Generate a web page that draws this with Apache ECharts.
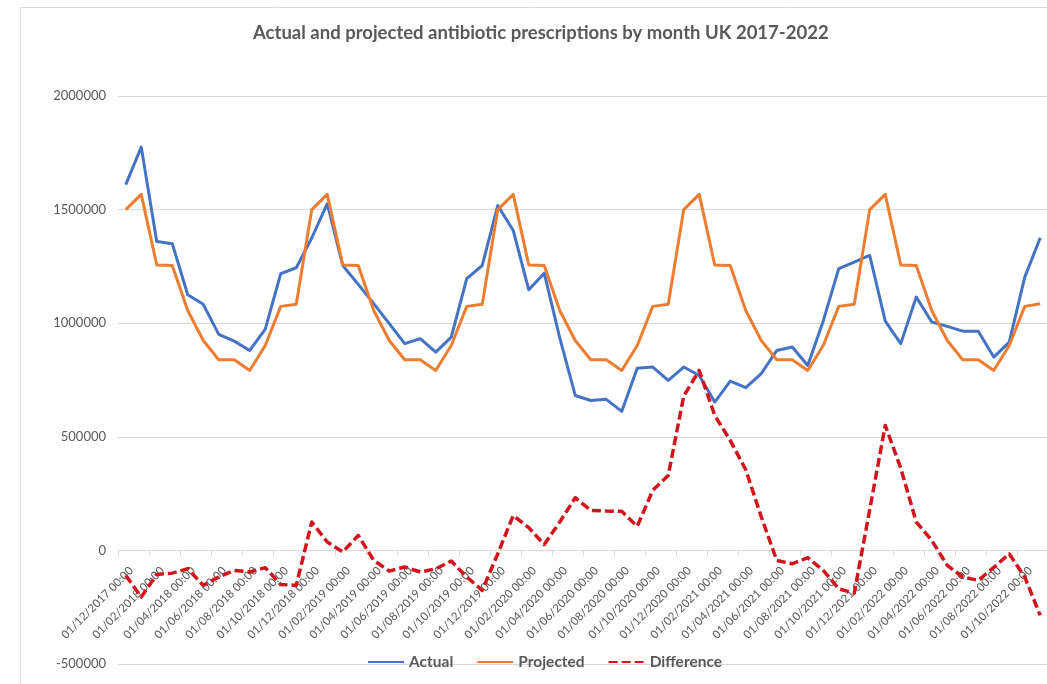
<!DOCTYPE html>
<html>
<head>
<meta charset="utf-8">
<title>Antibiotic prescriptions UK 2017-2022</title>
<script src="https://cdn.jsdelivr.net/npm/echarts@6/dist/echarts.min.js"></script>
<style>
  html, body { margin: 0; padding: 0; background: #ffffff; }
  #chart { width: 1047px; height: 684px; }
</style>
</head>
<body>
<div id="chart"></div>
<script>
// Monthly categories, Dec 2017 to Nov 2022
const months = [
  '01/12/2017 00:00', '01/01/2018 00:00', '01/02/2018 00:00', '01/03/2018 00:00', '01/04/2018 00:00', '01/05/2018 00:00',
  '01/06/2018 00:00', '01/07/2018 00:00', '01/08/2018 00:00', '01/09/2018 00:00', '01/10/2018 00:00', '01/11/2018 00:00',
  '01/12/2018 00:00', '01/01/2019 00:00', '01/02/2019 00:00', '01/03/2019 00:00', '01/04/2019 00:00', '01/05/2019 00:00',
  '01/06/2019 00:00', '01/07/2019 00:00', '01/08/2019 00:00', '01/09/2019 00:00', '01/10/2019 00:00', '01/11/2019 00:00',
  '01/12/2019 00:00', '01/01/2020 00:00', '01/02/2020 00:00', '01/03/2020 00:00', '01/04/2020 00:00', '01/05/2020 00:00',
  '01/06/2020 00:00', '01/07/2020 00:00', '01/08/2020 00:00', '01/09/2020 00:00', '01/10/2020 00:00', '01/11/2020 00:00',
  '01/12/2020 00:00', '01/01/2021 00:00', '01/02/2021 00:00', '01/03/2021 00:00', '01/04/2021 00:00', '01/05/2021 00:00',
  '01/06/2021 00:00', '01/07/2021 00:00', '01/08/2021 00:00', '01/09/2021 00:00', '01/10/2021 00:00', '01/11/2021 00:00',
  '01/12/2021 00:00', '01/01/2022 00:00', '01/02/2022 00:00', '01/03/2022 00:00', '01/04/2022 00:00', '01/05/2022 00:00',
  '01/06/2022 00:00', '01/07/2022 00:00', '01/08/2022 00:00', '01/09/2022 00:00', '01/10/2022 00:00', '01/11/2022 00:00'
];

const actual = [
  1610000, 1775000, 1360000, 1350000, 1125000, 1083000, 951000, 921000, 880000, 974000, 1218000, 1244000,
  1375000, 1526000, 1254000, 1171000, 1086000, 998000, 910000, 932000, 873000, 939000, 1196000, 1254000,
  1518000, 1408000, 1147000, 1220000, 935000, 682000, 660000, 665000, 612000, 802000, 807000, 748000,
  807000, 770000, 653000, 745000, 716000, 778000, 880000, 895000, 814000, 1010000, 1240000, 1269000,
  1298000, 1009000, 910000, 1115000, 1005000, 986000, 965000, 965000, 851000, 917000, 1203000, 1376000
];

const projected = [
  1500000, 1567000, 1256000, 1254000, 1056000, 924000, 839000, 839000, 792000, 902000, 1074000, 1083000,
  1500000, 1567000, 1256000, 1254000, 1056000, 924000, 839000, 839000, 792000, 902000, 1074000, 1083000,
  1500000, 1567000, 1256000, 1254000, 1056000, 924000, 839000, 839000, 792000, 902000, 1074000, 1083000,
  1500000, 1567000, 1256000, 1254000, 1056000, 924000, 839000, 839000, 792000, 902000, 1074000, 1083000,
  1500000, 1567000, 1256000, 1254000, 1056000, 924000, 839000, 839000, 792000, 902000, 1074000, 1086000
];

const difference = [
  -110000, -205000, -106000, -100000, -81000, -154000, -117000, -88000, -95000, -76000, -150000, -154000,
  125000, 37000, -7000, 66000, -44000, -91000, -73000, -95000, -81000, -47000, -117000, -176000,
  -15000, 154000, 100000, 26000, 125000, 232000, 176000, 173000, 172000, 106000, 264000, 330000,
  680000, 792000, 594000, 484000, 355000, 148000, -44000, -59000, -32000, -88000, -169000, -188000,
  180000, 550000, 362000, 125000, 44000, -66000, -117000, -132000, -75000, -15000, -117000, -286000
];

const yTicks = { min: -500000, max: 2000000, step: 500000 };

const FONT = 'Lato, "Open Sans", sans-serif';
const TEXT = '#595959';
const GRID = '#d9d9d9';

const GRID_TOP = 96;
const GRID_HEIGHT = 568;
// lift the category axis from the bottom edge up to the zero line
const zeroOffset = -GRID_HEIGHT * (0 - yTicks.min) / (yTicks.max - yTicks.min);

const chart = echarts.init(document.getElementById('chart'), null, { renderer: 'canvas' });

chart.setOption({
  animation: false,
  backgroundColor: '#ffffff',
  textStyle: { fontFamily: FONT },
  graphic: [{
    type: 'rect',
    shape: { x: 20.5, y: 7.5, width: 1100, height: 800 },
    style: { fill: 'none', stroke: GRID, lineWidth: 1 },
    silent: true,
    z: -10
  }],
  title: {
    text: 'Actual and projected antibiotic prescriptions by month UK 2017-2022',
    left: 248,
    top: 19,
    textStyle: { fontFamily: FONT, fontSize: 18.5, fontWeight: 'bold', color: TEXT }
  },
  legend: {
    bottom: 9,
    left: 362,
    itemWidth: 36,
    itemHeight: 14,
    itemGap: 23,
    itemStyle: { opacity: 0 },
    textStyle: { fontFamily: FONT, fontSize: 15.5, fontWeight: 'bold', color: TEXT },
    data: ['Actual', 'Projected', 'Difference']
  },
  grid: { left: 118, top: GRID_TOP, width: 930, height: GRID_HEIGHT, containLabel: false, outerBoundsMode: 'none' },
  xAxis: {
    type: 'category',
    data: months,
    boundaryGap: true,
    position: 'bottom',
    offset: zeroOffset,
    axisLine: { onZero: false, lineStyle: { color: GRID, width: 1 } },
    axisTick: { show: true, interval: 1, length: 5, lineStyle: { color: GRID } },
    axisLabel: {
      interval: 1,
      rotate: 45,
      margin: 24,
      padding: [0, -8, 0, 0],
      fontSize: 11.5,
      color: TEXT,
      fontFamily: FONT,
      hideOverlap: false
    },
    splitLine: { show: false }
  },
  yAxis: {
    type: 'value',
    min: yTicks.min,
    max: yTicks.max,
    interval: yTicks.step,
    axisLine: { show: false },
    axisTick: { show: false },
    axisLabel: { fontSize: 13, color: TEXT, margin: 12, fontFamily: FONT, formatter: (v) => String(v) },
    splitLine: { lineStyle: { color: GRID, width: 1 } }
  },
  series: [
    {
      name: 'Actual',
      type: 'line',
      data: actual,
      symbol: 'none',
      lineStyle: { color: '#4472c4', width: 3, join: 'round' },
      itemStyle: { color: '#4472c4' }
    },
    {
      name: 'Projected',
      type: 'line',
      data: projected,
      symbol: 'none',
      lineStyle: { color: '#ed7d31', width: 3, join: 'round' },
      itemStyle: { color: '#ed7d31' }
    },
    {
      name: 'Difference',
      type: 'line',
      data: difference,
      symbol: 'none',
      lineStyle: { color: '#d2151c', width: 3.5, type: [9, 4], join: 'round' },
      itemStyle: { color: '#d2151c' }
    }
  ]
});
</script>
</body>
</html>
